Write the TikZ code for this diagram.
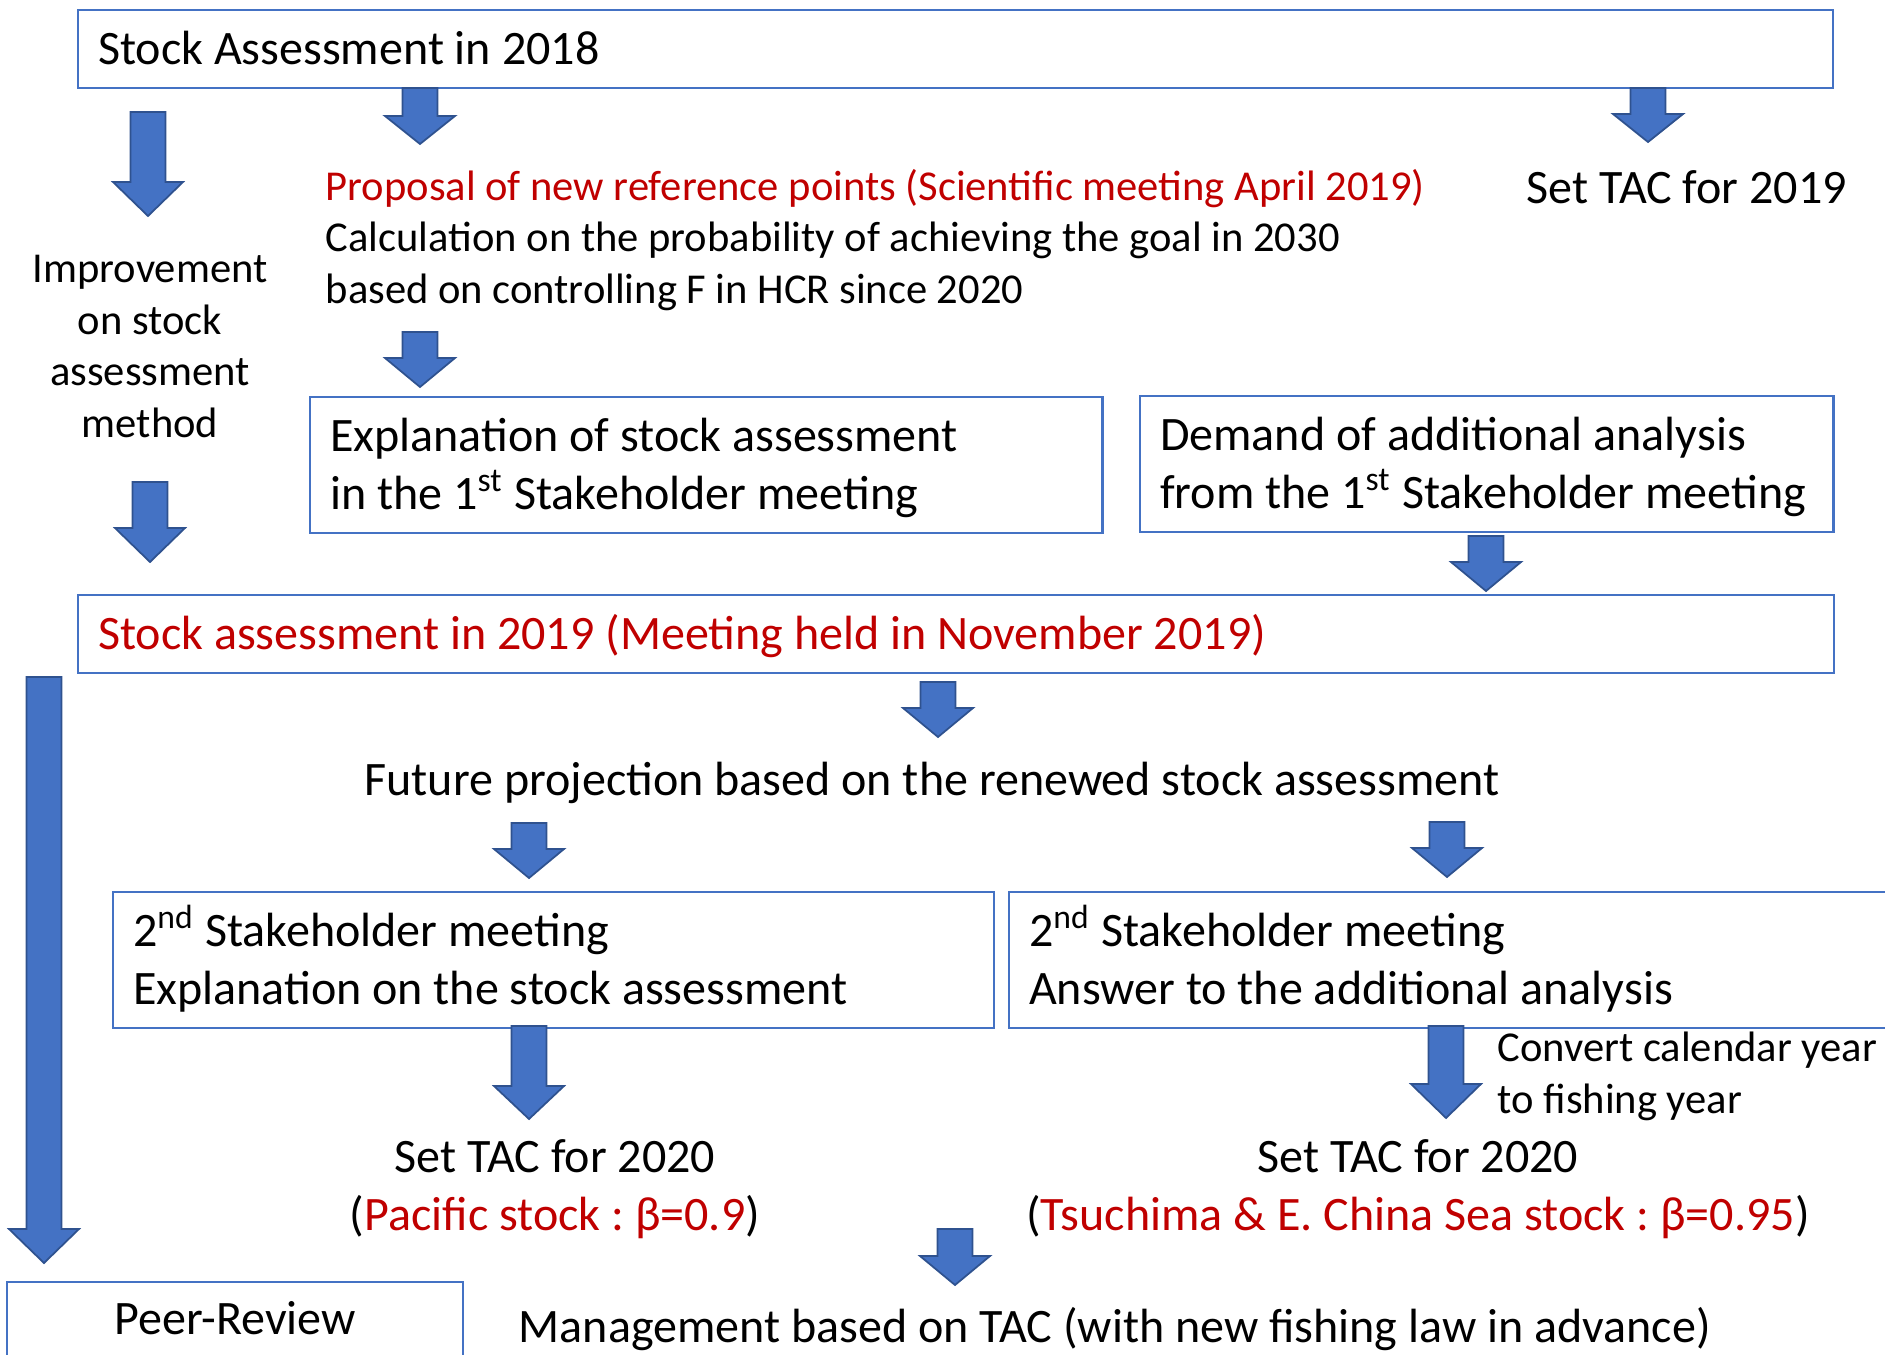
\documentclass[tikz,border=0pt]{standalone}
\usepackage{fontspec}
\setmainfont{Carlito}
\usepackage{tikz}
\definecolor{boxblue}{HTML}{4472C4}
\definecolor{arrowblue}{HTML}{4472C4}
\definecolor{arrowedge}{HTML}{2F528F}
\definecolor{tacred}{HTML}{C00000}
\newcommand{\bigtxt}{\fontsize{13.66pt}{16.36pt}\selectfont}
\newcommand{\smalltxt}{\fontsize{12.1pt}{14.6pt}\selectfont}
\frenchspacing

\begin{document}
\begin{tikzpicture}[x=0.01cm, y=-0.01cm,
    flowbox/.style={draw=boxblue, line width=0.6pt, anchor=north west, inner xsep=0.2cm, inner ysep=0pt, font=\bigtxt, text height=0.31cm},
    onebox/.style={flowbox, minimum height=0.78cm, text depth=0pt},
    twobox/.style={flowbox, minimum height=1.36cm, text depth=0.575cm},
    blockarrow/.style={fill=arrowblue, draw=arrowedge, line width=0.5pt},
    bigtext/.style={font=\bigtxt, inner sep=0pt},
    smalltext/.style={font=\smalltxt, inner sep=0pt}]
        \useasboundingbox (0,0) rectangle (1885,1354);
        \clip (0,0) rectangle (1885,1354);

        \node[onebox] (sa18) at (77,9) {\parbox[t]{17.14cm}{Stock Assessment in 2018}};
        \node[smalltext, anchor=base west, align=left] (proposal) at (325,303) {\textcolor{tacred}{Proposal of new reference points (Scientific meeting April 2019)}\\Calculation on the probability of achieving the goal in 2030\\based on controlling F in HCR since 2020};
        \node[bigtext, anchor=base west] (tac19) at (1526,203) {Set TAC for 2019};
        \node[smalltext, anchor=base, align=center] (improve) at (150,437) {Improvement\\on stock\\assessment\\method};

        \node[twobox] (explain) at (309,396) {\parbox[t]{7.52cm}{Explanation of stock assessment\\in the 1\textsuperscript{st} Stakeholder meeting}};
        \node[twobox] (demand) at (1139,395) {\parbox[t]{6.53cm}{Demand of additional analysis\\from the 1\textsuperscript{st} Stakeholder meeting}};

        \node[onebox, text=tacred] (sa19) at (77,594) {\parbox[t]{17.15cm}{Stock assessment in 2019 (Meeting held in November 2019)}};
        \node[bigtext, anchor=base] (future) at (932,795) {Future projection based on the renewed stock assessment};

        \node[twobox] (shleft) at (112,891) {\parbox[t]{8.4cm}{2\textsuperscript{nd} Stakeholder meeting\\Explanation on the stock assessment}};
        \node[twobox] (shright) at (1008,891) {\parbox[t]{9.6cm}{2\textsuperscript{nd} Stakeholder meeting\\Answer to the additional analysis}};

        \node[smalltext, anchor=base west, align=left] (convert) at (1497,1113) {Convert calendar year\\to fishing year};
        \node[bigtext, anchor=base, align=center] (tacpac) at (555,1230) {Set TAC for 2020\\(\textcolor{tacred}{Pacific stock : β=0.9})};
        \node[bigtext, anchor=base, align=center] (tactsu) at (1418,1230) {Set TAC for 2020\\(\textcolor{tacred}{Tsuchima \& E. China Sea stock : β=0.95})};

        \node[flowbox, align=center, text width=4.16cm, inner ysep=0.21cm, text depth=0.6cm] (peer) at (6,1281) {Peer-Review};
        \node[bigtext, anchor=base west] (manage) at (518,1342) {Management based on TAC (with new fishing law in advance)};

        \foreach \x/\t/\h/\e in {148/112/182/216, 420/88/116/144, 1648/88/114/142, 420/332/358/387,
                1486/536/562/591, 150/482/528/562, 938/682/708/737, 529/823/849/878, 1447/822/848/877,
                529/1026/1086/1119, 1446/1026/1084/1118, 955/1229/1256/1285, 44/677/1229/1263}
            \draw[blockarrow] (\x-17.5,\t) -- (\x+17.5,\t) -- (\x+17.5,\h) -- (\x+35,\h) -- (\x,\e) -- (\x-35,\h) -- (\x-17.5,\h) -- cycle;
    \end{tikzpicture}
\end{document}
